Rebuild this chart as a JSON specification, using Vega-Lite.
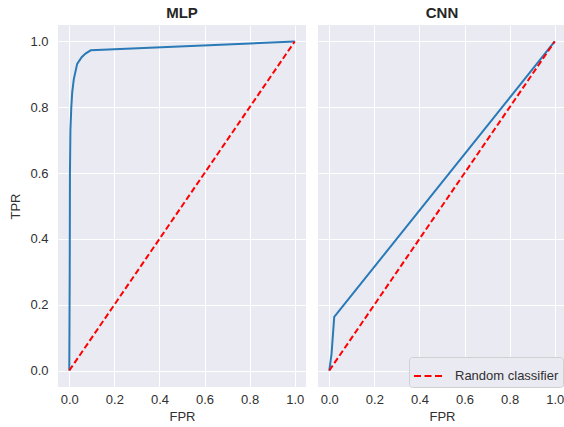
{
  "$schema": "https://vega.github.io/schema/vega-lite/v6.json",
  "padding": {"left": 9, "top": 6, "right": 0, "bottom": 0},
  "background": "white",
  "spacing": 12,
  "datasets": {
    "mlp": [
      {"fpr": 0.0, "tpr": 0.0},
      {"fpr": 0.002, "tpr": 0.3},
      {"fpr": 0.003, "tpr": 0.6},
      {"fpr": 0.005, "tpr": 0.73},
      {"fpr": 0.009, "tpr": 0.8},
      {"fpr": 0.013, "tpr": 0.845},
      {"fpr": 0.02, "tpr": 0.885},
      {"fpr": 0.035, "tpr": 0.932},
      {"fpr": 0.055, "tpr": 0.952},
      {"fpr": 0.072, "tpr": 0.963},
      {"fpr": 0.095, "tpr": 0.973},
      {"fpr": 1.0, "tpr": 1.0}
    ],
    "cnn": [
      {"fpr": 0.0, "tpr": 0.0},
      {"fpr": 0.01, "tpr": 0.05},
      {"fpr": 0.022, "tpr": 0.163},
      {"fpr": 1.0, "tpr": 1.0}
    ],
    "diag": [
      {"fpr": 0.0, "tpr": 0.0, "label": "Random classifier"},
      {"fpr": 1.0, "tpr": 1.0, "label": "Random classifier"}
    ]
  },
  "hconcat": [
    {
      "width": 248,
      "height": 362,
      "title": "MLP",
      "layer": [
        {
          "data": {"name": "mlp"},
          "mark": {"type": "line", "color": "#2a7ab7", "strokeWidth": 2},
          "encoding": {
            "x": {"field": "fpr", "type": "quantitative", "scale": {"domain": [-0.05, 1.05], "nice": false, "zero": false}, "axis": {"values": [0, 0.2, 0.4, 0.6, 0.8, 1.0], "format": ".1f", "title": "FPR"}},
            "y": {"field": "tpr", "type": "quantitative", "scale": {"domain": [-0.05, 1.05], "nice": false, "zero": false}, "axis": {"values": [0, 0.2, 0.4, 0.6, 0.8, 1.0], "format": ".1f", "title": "TPR", "labelPadding": 10, "titlePadding": 7}}
          }
        },
        {
          "data": {"name": "diag"},
          "mark": {"type": "line", "color": "#ff0000", "strokeWidth": 2, "strokeDash": [6, 3]},
          "encoding": {
            "x": {"field": "fpr", "type": "quantitative"},
            "y": {"field": "tpr", "type": "quantitative"}
          }
        }
      ]
    },
    {
      "width": 248,
      "height": 362,
      "title": "CNN",
      "layer": [
        {
          "data": {"name": "cnn"},
          "mark": {"type": "line", "color": "#2a7ab7", "strokeWidth": 2},
          "encoding": {
            "x": {"field": "fpr", "type": "quantitative", "scale": {"domain": [-0.05, 1.05], "nice": false, "zero": false}, "axis": {"values": [0, 0.2, 0.4, 0.6, 0.8, 1.0], "format": ".1f", "title": "FPR"}},
            "y": {"field": "tpr", "type": "quantitative", "scale": {"domain": [-0.05, 1.05], "nice": false, "zero": false}, "axis": {"values": [0, 0.2, 0.4, 0.6, 0.8, 1.0], "labels": false, "title": null}}
          }
        },
        {
          "data": {"name": "diag"},
          "mark": {"type": "line", "strokeWidth": 2, "strokeDash": [6, 3]},
          "encoding": {
            "x": {"field": "fpr", "type": "quantitative"},
            "y": {"field": "tpr", "type": "quantitative"},
            "color": {
              "field": "label", "type": "nominal",
              "scale": {"range": ["#ff0000"]},
              "legend": {
                "title": null,
                "orient": "none",
                "legendX": 351,
                "legendY": 332,
                "symbolType": "stroke",
                "symbolDash": [7, 3.5],
                "symbolStrokeWidth": 2,
                "symbolSize": 784,
                "labelFontSize": 13,
                "labelFont": "Liberation Sans",
                "labelColor": "#303030",
                "labelOffset": 12,
                "padding": 4,
                "fillColor": "#EAEAF2",
                "strokeColor": "#d0d0d0",
                "cornerRadius": 3
              }
            }
          }
        }
      ]
    }
  ],
  "config": {
    "view": {"fill": "#EAEAF2", "stroke": null},
    "axis": {
      "gridColor": "white",
      "gridWidth": 1,
      "domain": false,
      "ticks": false,
      "labelFont": "Liberation Sans",
      "labelFontSize": 13,
      "labelColor": "#303030",
      "labelPadding": 6,
      "titleFont": "Liberation Sans",
      "titleFontSize": 13,
      "titleFontWeight": "normal",
      "titleColor": "#303030",
      "titlePadding": 4
    },
    "title": {"font": "Liberation Sans", "fontSize": 15, "fontWeight": "bold", "color": "#262626", "offset": 4}
  }
}
